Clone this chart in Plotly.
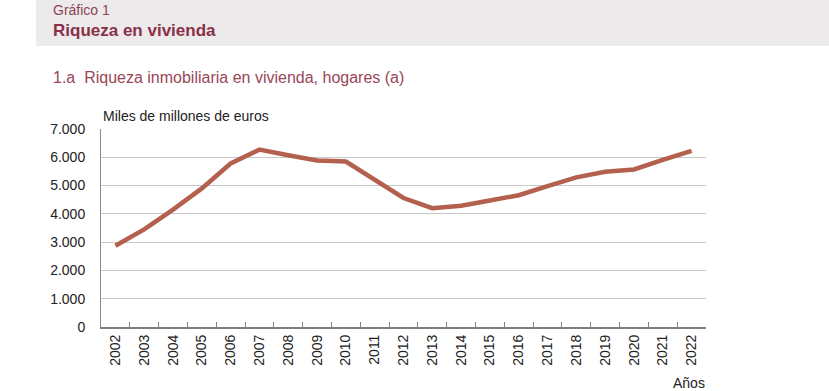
import plotly.graph_objects as go

years = [str(y) for y in range(2002, 2023)]
riqueza = [2870, 3450, 4150, 4900, 5780, 6270, 6070, 5890, 5850, 5220, 4560,
           4200, 4290, 4470, 4660, 4980, 5290, 5490, 5570, 5910, 6230]
y_ticks = [0, 1000, 2000, 3000, 4000, 5000, 6000, 7000]
y_tick_labels = ["0", "1.000", "2.000", "3.000", "4.000", "5.000", "6.000", "7.000"]

W, H = 829, 391
L, R, T, B = 101, 706, 129, 327
pw, ph = R - L, B - T

def px(x):
    return (x - L) / pw

def py(y):
    return (B - y) / ph

FONT = "Liberation Sans, Arial, sans-serif"

fig = go.Figure()
fig.add_trace(go.Scatter(
    x=years, y=riqueza, mode="lines",
    line=dict(color="#B3604E", width=4.5),
    hoverinfo="skip", showlegend=False,
))

fig.update_layout(
    width=W, height=H,
    margin=dict(l=L, r=W - R, t=T, b=H - B, pad=0),
    paper_bgcolor="white", plot_bgcolor="white",
    font=dict(family=FONT, size=14, color="#222222"),
    xaxis=dict(
        type="category", tickson="boundaries", ticks="inside", ticklen=5,
        tickcolor="#7f7f7f", tickwidth=1, showgrid=False,
        showline=True, linecolor="#7f7f7f", linewidth=2,
        tickangle=-90, tickfont=dict(size=14, color="#222222"),
        range=[-0.5, len(years) - 0.5], fixedrange=True,
    ),
    yaxis=dict(
        range=[0, 7000], tickvals=y_ticks, ticktext=y_tick_labels,
        showgrid=True, gridcolor="#c8c8c8", gridwidth=1,
        zeroline=False, showline=True, linecolor="#8a8a8a", linewidth=1,
        ticks="", ticklabelstandoff=12, tickfont=dict(size=14, color="#222222"),
        fixedrange=True,
    ),
    shapes=[
        dict(type="rect", xref="paper", yref="paper",
             x0=px(36), x1=px(829), y0=py(46), y1=py(0),
             fillcolor="#ECEAEA", line=dict(width=0), layer="below"),
    ],
    annotations=[
        dict(text="Gráfico 1", xref="paper", yref="paper", x=px(51), y=py(10),
             xanchor="left", yanchor="middle", showarrow=False,
             font=dict(family=FONT, size=14, color="#8C4457")),
        dict(text="<b>Riqueza en vivienda</b>", xref="paper", yref="paper",
             x=px(51), y=py(31), xanchor="left", yanchor="middle", showarrow=False,
             font=dict(family=FONT, size=17, color="#8A3048")),
        dict(text="1.a  Riqueza inmobiliaria en vivienda, hogares (a)", xref="paper",
             yref="paper", x=px(51), y=py(77), xanchor="left", yanchor="middle",
             showarrow=False, font=dict(family=FONT, size=16, color="#9A4658")),
        dict(text="Miles de millones de euros", xref="paper", yref="paper",
             x=px(101), y=py(116), xanchor="left", yanchor="middle", showarrow=False,
             font=dict(family=FONT, size=14, color="#222222")),
        dict(text="Años", xref="paper", yref="paper", x=px(707), y=py(383),
             xanchor="right", yanchor="middle", showarrow=False,
             font=dict(family=FONT, size=14, color="#222222")),
    ],
)

fig.write_html("out.html", config={"displayModeBar": False},
               post_script="document.body.style.margin='0';document.body.style.overflow='hidden';")
